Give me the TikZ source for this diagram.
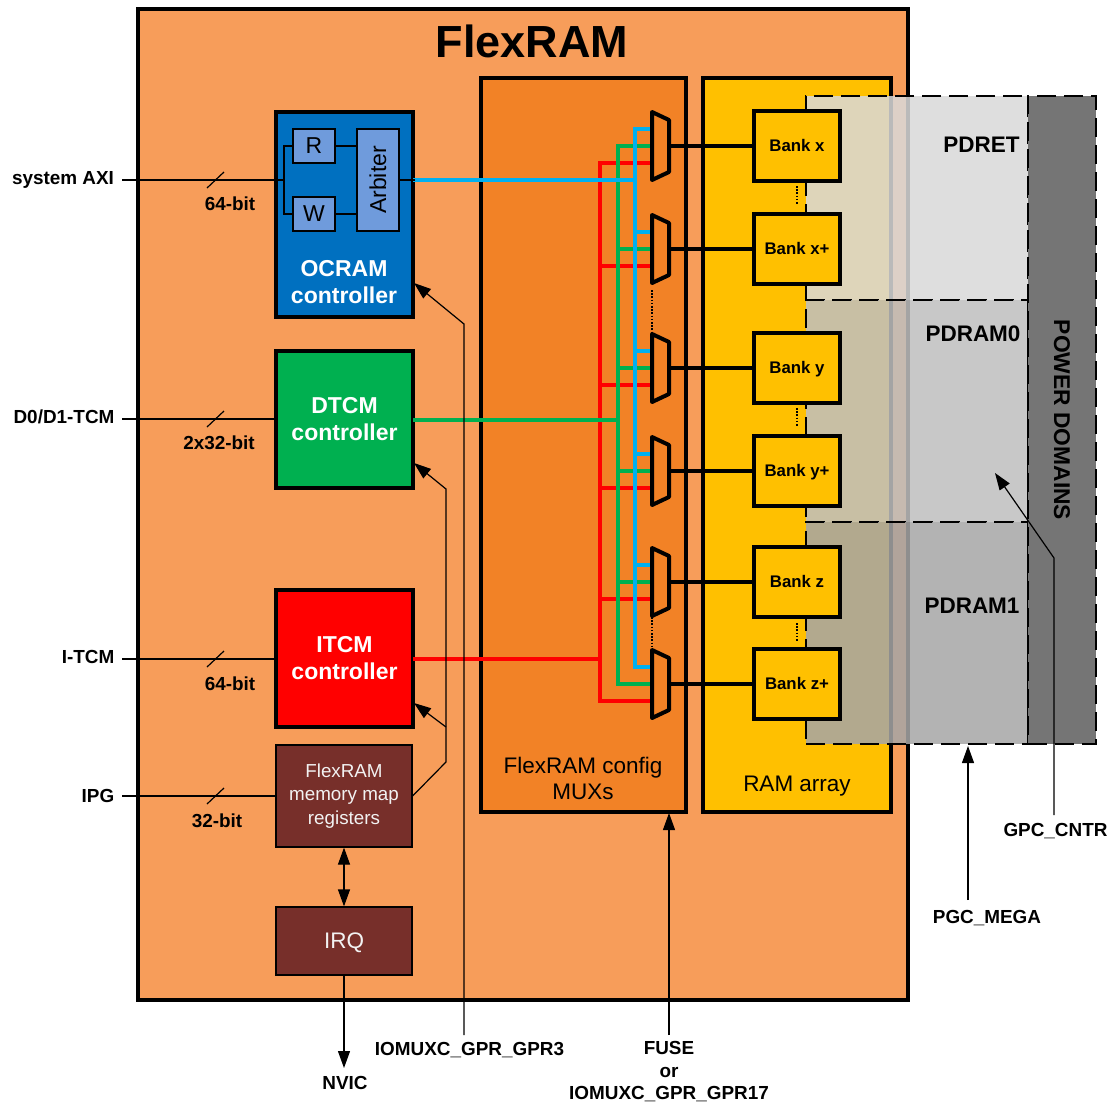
\documentclass[tikz,border=0pt]{standalone}
\usepackage{fontspec}
\setmainfont{Liberation Sans}
\usetikzlibrary{arrows.meta}
\definecolor{flexbg}{HTML}{F79D5A}
\definecolor{muxbg}{HTML}{F28226}
\definecolor{rambg}{HTML}{FFC000}
\definecolor{ocrambg}{HTML}{0070C0}
\definecolor{subbg}{HTML}{6F9BDC}
\definecolor{tcmgreen}{HTML}{00B050}
\definecolor{regbg}{HTML}{772F2A}
\definecolor{wireblue}{HTML}{00B0F0}
\definecolor{domaingray}{HTML}{757575}
\begin{document}
\begin{tikzpicture}[x=1pt,y=-1pt,>={Triangle[length=17pt,width=12pt]},
 heavybox/.style={draw,line width=4pt,inner sep=0pt,align=center,text=white,font=\fontsize{23}{27}\selectfont\bfseries},
 subbox/.style={draw,line width=1.2pt,fill=subbg,inner sep=0pt,font=\fontsize{23}{27}\selectfont},
 regbox/.style={draw,line width=1.2pt,fill=regbg,inner sep=0pt,align=center,text=white!90!gray},
 bankbox/.style={draw,line width=3.8pt,fill=rambg,inner sep=0pt,minimum width=86pt,minimum height=70pt,text height=12pt,text depth=2pt,font=\fontsize{16.8}{20}\selectfont\bfseries},
 domaindash/.style={draw,line width=2.3pt,dash pattern=on 19pt off 8pt,inner sep=0pt},
 domainbox/.style={domaindash,fill opacity=.86},
 extlabel/.style={inner sep=0pt,align=center,font=\fontsize{18.9}{22.5}\selectfont\bfseries},
 domainlabel/.style={inner sep=0pt,font=\fontsize{22.5}{26}\selectfont\bfseries},
 arealabel/.style={inner sep=0pt,align=center,font=\fontsize{22.5}{26}\selectfont},
 thinline/.style={line width=1.2pt},
 busline/.style={line width=4pt,line cap=rect},
 bankline/.style={line width=3.5pt},
 dotline/.style={line width=1.2pt,dash pattern=on 1.6pt off 1.6pt}]
 \useasboundingbox (0,0) rectangle (1112,1104);

 \draw[line width=4.5pt,fill=flexbg] (138,9) rectangle (908,1000);
 \node[inner sep=0pt,font=\fontsize{45}{50}\selectfont\bfseries] (title) at (532,41) {FlexRAM};
 \draw[line width=4pt,fill=muxbg] (481,78) rectangle (686,812);
 \draw[line width=4pt,fill=rambg] (703,78) rectangle (891,812);
 \node[arealabel] (muxlabel) at (583,778) {FlexRAM config\\MUXs};
 \node[arealabel] (ramlabel) at (797,786) {RAM array};

 \node[heavybox,fill=ocrambg,minimum width=137pt,minimum height=205pt] (ocram) at (344.5,214.5) {};
 \node[inner sep=0pt,align=center,text=white,font=\fontsize{23}{27}\selectfont\bfseries] (ocramtext) at (344,282) {OCRAM\\controller};
 \node[subbox,minimum width=42pt,minimum height=34pt] (rblock) at (314,146) {R};
 \node[subbox,minimum width=42pt,minimum height=34pt] (wblock) at (314,214) {W};
 \node[subbox,minimum width=42pt,minimum height=102pt] (arbiter) at (378,180) {\rotatebox{90}{Arbiter}};
 \node[heavybox,fill=tcmgreen,minimum width=137pt,minimum height=137pt] (dtcm) at (344.5,419.5) {DTCM\\controller};
 \node[heavybox,fill=red,minimum width=137pt,minimum height=137pt] (itcm) at (344.5,658.5) {ITCM\\controller};
 \node[regbox,minimum width=136pt,minimum height=102pt,font=\fontsize{18.8}{23.5}\selectfont] (mapregs) at (344,796) {FlexRAM\\memory map\\registers};
 \node[regbox,minimum width=136pt,minimum height=68pt,text height=16pt,text depth=2pt,font=\fontsize{22.5}{26}\selectfont] (irq) at (344,941) {IRQ};

 \coordinate (redtop) at (600,163);
 \coordinate (redbot) at (600,701);
 \coordinate (greentop) at (617.5,146);
 \coordinate (greenbot) at (617.5,684);
 \coordinate (bluetop) at (635,129);
 \coordinate (bluebot) at (635,667);

 \draw[busline,red] (redtop) -- (redbot);
 \draw[busline,red] (itcm.east) -- (redtop |- itcm.east);
 \foreach \muxname/\muxy in {a/146,b/249,c/368,d/471,e/582,f/684}
  \draw[busline,red] (600,\muxy+17) -- (652,\muxy+17);
 \draw[busline,tcmgreen] (greentop) -- (greenbot);
 \draw[busline,tcmgreen] (dtcm.east) -- (greentop |- dtcm.east);
 \foreach \muxname/\muxy in {a/146,b/249,c/368,d/471,e/582,f/684}
  \draw[busline,tcmgreen] (617.5,\muxy) -- (652,\muxy);
 \draw[busline,wireblue] (bluetop) -- (bluebot);
 \draw[busline,wireblue] (ocram.east |- arbiter.east) -- (bluetop |- arbiter.east);
 \foreach \muxname/\muxy in {a/146,b/249,c/368,d/471,e/582,f/684}
  \draw[busline,wireblue] (635,\muxy-17) -- (652,\muxy-17);

 \draw[dotline] (652,290) -- (652,333);
 \draw[dotline] (652,617) -- (652,649);
 \draw[dotline] (797,186) -- (797,205);
 \draw[dotline] (797,408) -- (797,427);
 \draw[dotline] (797,623) -- (797,642);

 \foreach \muxname/\muxy in {a/146,b/249,c/368,d/471,e/582,f/684} {
  \draw[line width=4pt,fill=muxbg,line join=round] (652,\muxy-34) -- (669,\muxy-26) -- (669,\muxy+26) -- (652,\muxy+34) -- cycle;
  \coordinate (mux\muxname) at (669,\muxy);
 }

 \node[domainbox,fill=black!15,minimum width=222pt,minimum height=204pt] (pdret) at (917,198) {};
 \node[domainbox,fill=black!25,minimum width=222pt,minimum height=222pt] (pdramzero) at (917,411) {};
 \node[domainbox,fill=black!35,minimum width=222pt,minimum height=222pt] (pdramone) at (917,633) {};
 \node[domaindash,fill=domaingray,minimum width=68pt,minimum height=648pt] (domains) at (1062,420) {};
 \node[domainlabel] (pdrettext) at (981.5,145) {PDRET};
 \node[domainlabel] (pdzerotext) at (973,334) {PDRAM0};
 \node[domainlabel] (pdonetext) at (972,606) {PDRAM1};
 \node[domainlabel,rotate=-90] (domaintext) at (1062,420) {\fontsize{22.8}{26}\selectfont POWER DOMAINS};

 \foreach \muxname/\muxy/\banktext in {a/146/x,b/249/x+,c/368/y,d/471/y+,e/582/z,f/684/z+} {
  \node[bankbox] (bank\muxname) at (797,\muxy) {Bank \banktext};
  \draw[bankline] (mux\muxname) -- (bank\muxname);
 }

 \node[extlabel] (axilabel) at (63,180) {system AXI};
 \node[extlabel] (dzerolabel) at (64,417) {D0/D1-TCM};
 \node[extlabel] (itcmlabel) at (88,657) {I-TCM};
 \node[extlabel] (ipglabel) at (98,796) {IPG};
 \node[extlabel] (axiwidth) at (230,204) {64-bit};
 \node[extlabel] (dtcmwidth) at (219,443) {2x32-bit};
 \node[extlabel] (itcmwidth) at (230,684) {64-bit};
 \node[extlabel] (ipgwidth) at (217,821) {32-bit};
 \node[extlabel] (nviclabel) at (345,1083) {NVIC};
 \node[extlabel] (gprlabel) at (469.5,1050) {IOMUXC\_GPR\_GPR3};
 \node[extlabel] (fuselabel) at (669,1072) {FUSE\\or\\IOMUXC\_GPR\_GPR17};
 \node[extlabel] (megalabel) at (987,918) {PGC\_MEGA};
 \node[extlabel] (cntrlabel) at (1055.5,831) {GPC\_CNTR};

 \coordinate (axiin) at (122,180);
 \coordinate (dzeroin) at (122,419);
 \coordinate (itcmin) at (122,659);
 \coordinate (ipgin) at (122,796);
 \coordinate (axijoin) at (284,180);
 \draw[thinline] (axiin) -- (axijoin);
 \draw[thinline] (rblock.west) -| (axijoin) |- (wblock.west);
 \draw[thinline] (rblock) -- (arbiter.west |- rblock);
 \draw[thinline] (wblock) -- (arbiter.west |- wblock);
 \draw[thinline] (arbiter.east) -- (ocram.east |- arbiter.east);
 \draw[thinline] (dzeroin) -- (dtcm.west |- dzeroin);
 \draw[thinline] (itcmin) -- (itcm.west |- itcmin);
 \draw[thinline] (ipgin) -- (mapregs.west |- ipgin);
 \draw[thinline] (207,188) -- (224,172);
 \draw[thinline] (207,427) -- (224,411);
 \draw[thinline] (207,667) -- (224,651);
 \draw[thinline] (207,804) -- (224,788);

 \coordinate (ocramtip) at (414,283);
 \coordinate (dtcmtip) at (414,463);
 \coordinate (itcmtip) at (414,703);
 \coordinate (gprbase) at (464,1035);
 \coordinate (gprbend) at (464,324);
 \coordinate (regbend) at (446,762);
 \coordinate (itcmbend) at (446,727);
 \coordinate (dtcmbend) at (446,489);
 \coordinate (nvicend) at (344,1068);
 \coordinate (fusebase) at (669,1035);
 \coordinate (fusetip) at (669,813);
 \coordinate (megabase) at (968,900);
 \coordinate (megatip) at (968,746);
 \coordinate (cntrbase) at (1054,815);
 \coordinate (cntrbend) at (1054,558);
 \coordinate (cntrtip) at (995,473);
 \draw[thinline,->] (gprbase) -- (gprbend) -- (ocramtip);
 \draw[thinline,->] (mapregs.east) -- (regbend) -- (dtcmbend) -- (dtcmtip);
 \draw[thinline,->] (itcmbend) -- (itcmtip);
 \draw[thinline,<->] (mapregs) -- (irq);
 \draw[thinline,->] (irq) -- (nvicend);
 \draw[thinline,->] (fusebase) -- (fusetip);
 \draw[thinline,->] (megabase) -- (megatip);
 \draw[thinline,->] (cntrbase) -- (cntrbend) -- (cntrtip);
\end{tikzpicture}
\end{document}
